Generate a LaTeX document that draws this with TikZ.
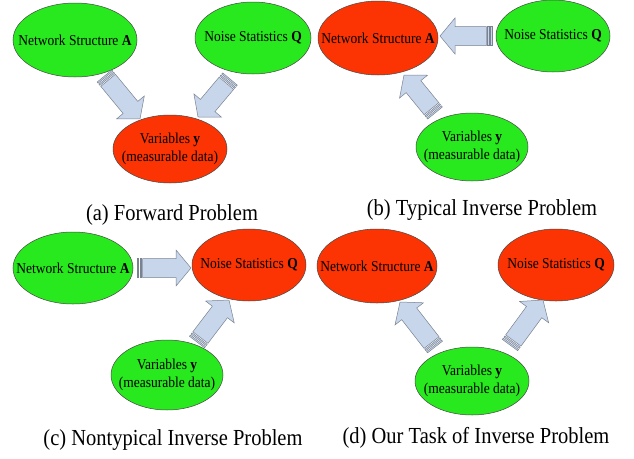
\documentclass[tikz,border=0pt]{standalone}
\usepackage{fontspec}
\setmainfont{Liberation Serif}
\usetikzlibrary{shapes.geometric,calc}
\definecolor{gfill}{RGB}{40,232,30}
\definecolor{rfill}{RGB}{252,52,4}
\definecolor{afill}{RGB}{200,214,236}
\definecolor{aline}{RGB}{120,130,145}
\definecolor{eline}{RGB}{70,70,70}
\newcommand\hsw{9.5pt}
\newcommand\hhw{18pt}
\newcommand\hlen{15pt}
\newcommand\stripedarrow[2]{%
  \path let \p1=(#1), \p2=(#2) in \pgfextra{%
    \pgfmathparse{atan2(\y2-\y1,\x2-\x1)}\xdef\arang{\pgfmathresult}%
    \pgfmathparse{veclen(\x2-\x1,\y2-\y1)}\xdef\arlen{\pgfmathresult}};
  \begin{scope}[shift={(#1)}, rotate=\arang]
    \draw[arrowbody] (0pt,-\hsw) rectangle (1.5pt,\hsw);
    \draw[arrowbody] (2.8pt,-\hsw) rectangle (4.3pt,\hsw);
    \draw[arrowbody] (5.6pt,-\hsw) -- ({\arlen pt-\hlen},-\hsw) -- ({\arlen pt-\hlen},-\hhw)
      -- (\arlen pt,0pt) -- ({\arlen pt-\hlen},\hhw) -- ({\arlen pt-\hlen},\hsw) -- (5.6pt,\hsw) -- cycle;
  \end{scope}}
\tikzset{
  oval/.style={ellipse, draw=eline, line width=0.5pt, inner sep=0pt},
  gr/.style={oval, fill=gfill},
  rd/.style={oval, fill=rfill},
  lbl/.style={inner sep=0pt, align=center, font=\fontsize{13.5}{16}\selectfont},
  arrowbody/.style={draw=aline, fill=afill, line width=0.5pt, line join=miter},
  caption/.style={anchor=base, inner sep=0pt, font=\fontsize{20.5}{24}\selectfont},
}
\newcommand\ts[1]{\scalebox{1}[1.12]{#1}}
\newcommand\vy{\ts{\begin{tabular}{@{}c@{}}Variables \textbf{y}\\(measurable data)\end{tabular}}}
\newcommand\nsa{\ts{Network Structure \textbf{A}}}
\newcommand\nsq{\ts{Noise Statistics \textbf{Q}}}
\begin{document}
\begin{tikzpicture}[x=1pt,y=-1pt]
\useasboundingbox (0,0) rectangle (634,458);
% (a)
\node[gr, minimum width=124pt, minimum height=74pt] (Aa) at (75,40) {};
\node[lbl] (Aat) at (Aa.center) {\nsa};
\node[gr, minimum width=116pt, minimum height=72pt] (Qa) at (253,38) {};
\node[lbl] (Qat) at (Qa.center) {\nsq};
\node[rd, minimum width=114pt, minimum height=68pt] (ya) at (170,149) {};
\node[lbl] (yat) at (ya.center) {\vy};
\coordinate (ta1) at (104.5,76); \coordinate (pa1) at (140,119);
\coordinate (ta2) at (230,79); \coordinate (pa2) at (198,117);
\stripedarrow{ta1}{pa1}
\stripedarrow{ta2}{pa2}
\node[caption] (ca) at (172,220) {\ts{(a) Forward Problem}};
% (b)
\node[rd, minimum width=120pt, minimum height=74pt] (Ab) at (378,38) {};
\node[lbl] (Abt) at (Ab.center) {\nsa};
\node[gr, minimum width=114pt, minimum height=72pt] (Qb) at (553,36) {};
\node[lbl] (Qbt) at (Qb.center) {\nsq};
\node[gr, minimum width=112pt, minimum height=68pt] (yb) at (472,147) {};
\node[lbl] (ybt) at (yb.center) {\vy};
\coordinate (tb1) at (492,36); \coordinate (pb1) at (440,36);
\coordinate (tb2) at (435,113); \coordinate (pb2) at (404,75);
\stripedarrow{tb1}{pb1}
\stripedarrow{tb2}{pb2}
\node[caption] (cb) at (482,215) {\ts{(b) Typical Inverse Problem}};
% (c)
\node[gr, minimum width=120pt, minimum height=72pt] (Ac) at (73,268) {};
\node[lbl] (Act) at (Ac.center) {\nsa};
\node[rd, minimum width=114pt, minimum height=72pt] (Qc) at (249,265) {};
\node[lbl] (Qct) at (Qc.center) {\nsq};
\node[gr, minimum width=112pt, minimum height=70pt] (yc) at (167,375) {};
\node[lbl] (yct) at (yc.center) {\vy};
\coordinate (tc1) at (137,268); \coordinate (pc1) at (191,268);
\coordinate (tc2) at (197,342); \coordinate (pc2) at (229,300);
\stripedarrow{tc1}{pc1}
\stripedarrow{tc2}{pc2}
\node[caption] (cc) at (173,445) {\ts{(c) Nontypical Inverse Problem}};
% (d)
\node[rd, minimum width=120pt, minimum height=74pt] (Ad) at (377,266) {};
\node[lbl] (Adt) at (Ad.center) {\nsa};
\node[rd, minimum width=116pt, minimum height=72pt] (Qd) at (556,265) {};
\node[lbl] (Qdt) at (Qd.center) {\nsq};
\node[gr, minimum width=114pt, minimum height=68pt] (yd) at (472,381) {};
\node[lbl] (ydt) at (yd.center) {\vy};
\coordinate (td1) at (435,347); \coordinate (pd1) at (400,302);
\coordinate (td2) at (510,345); \coordinate (pd2) at (543,300);
\stripedarrow{td1}{pd1}
\stripedarrow{td2}{pd2}
\node[caption] (cd) at (476,443) {\ts{(d) Our Task of Inverse Problem}};
\end{tikzpicture}
\end{document}
